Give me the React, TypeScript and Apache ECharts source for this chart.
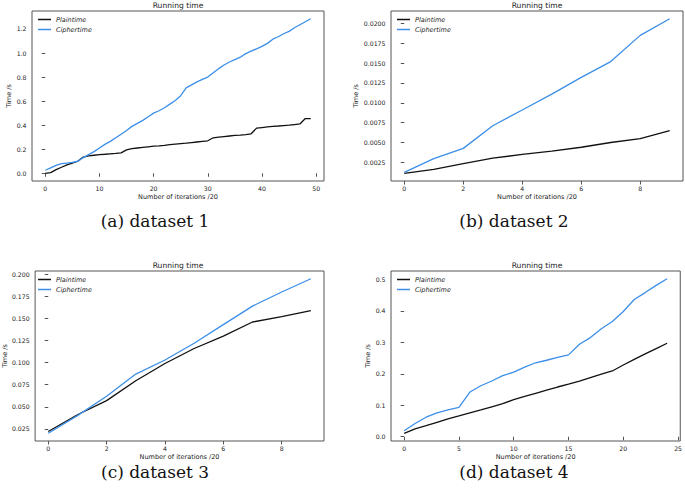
import React, { useEffect, useRef } from "react";
import * as echarts from "echarts";

// ---- data ----
const plainA = [0.0, 0.005, 0.03, 0.05, 0.07, 0.085, 0.1, 0.135, 0.145, 0.15, 0.155, 0.158, 0.162, 0.165, 0.17, 0.195, 0.205, 0.21, 0.215, 0.22, 0.225, 0.228, 0.232, 0.238, 0.242, 0.246, 0.25, 0.255, 0.26, 0.265, 0.27, 0.295, 0.3, 0.305, 0.31, 0.315, 0.318, 0.322, 0.328, 0.375, 0.38, 0.385, 0.39, 0.393, 0.397, 0.4, 0.405, 0.41, 0.455, 0.455];
const cipherA = [0.025, 0.045, 0.065, 0.08, 0.085, 0.09, 0.1, 0.13, 0.155, 0.18, 0.21, 0.24, 0.265, 0.295, 0.325, 0.355, 0.39, 0.415, 0.44, 0.47, 0.5, 0.52, 0.545, 0.575, 0.605, 0.645, 0.71, 0.735, 0.76, 0.78, 0.8, 0.835, 0.87, 0.9, 0.925, 0.945, 0.965, 0.995, 1.015, 1.035, 1.055, 1.08, 1.115, 1.135, 1.16, 1.18, 1.21, 1.235, 1.26, 1.285];

const plainB = [0.00112, 0.00162, 0.00233, 0.00302, 0.0035, 0.0039, 0.0044, 0.005, 0.0055, 0.0065];
const cipherB = [0.00124, 0.00296, 0.00426, 0.00711, 0.0091, 0.0111, 0.0132, 0.0152, 0.0185, 0.0206];

const plainC = [0.022, 0.041, 0.057, 0.0795, 0.099, 0.116, 0.13, 0.146, 0.152, 0.159];
const cipherC = [0.02, 0.04, 0.062, 0.087, 0.103, 0.122, 0.143, 0.164, 0.18, 0.195];

const plainD = [0.011, 0.025, 0.035, 0.046, 0.057, 0.066, 0.076, 0.085, 0.095, 0.105, 0.118, 0.128, 0.138, 0.148, 0.158, 0.167, 0.177, 0.188, 0.199, 0.209, 0.228, 0.246, 0.263, 0.28, 0.297];
const cipherD = [0.019, 0.042, 0.062, 0.076, 0.085, 0.093, 0.142, 0.162, 0.177, 0.194, 0.205, 0.221, 0.235, 0.243, 0.252, 0.26, 0.294, 0.315, 0.343, 0.366, 0.398, 0.436, 0.458, 0.481, 0.502];

const xTicksA = [0, 10, 20, 30, 40, 50];
const yTicksA = [0.0, 0.2, 0.4, 0.6, 0.8, 1.0, 1.2];
const xTicksB = [0, 2, 4, 6, 8];
const yTicksB = [0.0025, 0.005, 0.0075, 0.01, 0.0125, 0.015, 0.0175, 0.02];
const xTicksC = [0, 2, 4, 6, 8];
const yTicksC = [0.025, 0.05, 0.075, 0.1, 0.125, 0.15, 0.175, 0.2];
const xTicksD = [0, 5, 10, 15, 20, 25];
const yTicksD = [0.0, 0.1, 0.2, 0.3, 0.4, 0.5];

const captions = ["(a) dataset 1", "(b) dataset 2", "(c) dataset 3", "(d) dataset 4"];
const seriesNames = ["Plaintime", "Ciphertime"];
const titleText = "Running time";
const xName = "Number of iterations /20";
const yName = "Time /s";

const panels = [
  { plain: plainA, cipher: cipherA, xt: xTicksA, yt: yTicksA, dec: 1, left: 32, top: 11, yGap: 17, capX: 155, capY: 221 },
  { plain: plainB, cipher: cipherB, xt: xTicksB, yt: yTicksB, dec: 4, left: 391, top: 11, yGap: 29, capX: 514, capY: 221 },
  { plain: plainC, cipher: cipherC, xt: xTicksC, yt: yTicksC, dec: 3, left: 32, top: 271, yGap: 26, capX: 155, capY: 472 },
  { plain: plainD, cipher: cipherD, xt: xTicksD, yt: yTicksD, dec: 1, left: 391, top: 271, yGap: 18, capX: 514, capY: 472 },
];

const W = 292;
const H = 170;
const FONT = "DejaVu Sans";
const BLUE = "#3c8fe8";
const BLACK = "#111111";
const AXC = "#555555";
const TXT = "#222222";
const COLORS = [BLACK, BLUE];

export default function App() {
  const ref = useRef<HTMLDivElement>(null);
  useEffect(() => {
    if (!ref.current) return;
    const chart = echarts.init(ref.current, undefined, { renderer: "svg" });
    const grid: any[] = [];
    const xAxis: any[] = [];
    const yAxis: any[] = [];
    const series: any[] = [];
    const title: any[] = [];
    const graphic: any[] = [];
    panels.forEach((p, i) => {
      const n = p.plain.length;
      const xPad = (n - 1) * 0.05;
      const all = p.plain.concat(p.cipher);
      const ymin = Math.min(...all);
      const ymax = Math.max(...all);
      const yPad = (ymax - ymin) * 0.05;
      grid.push({ left: p.left, top: p.top, width: W, height: H, show: true, borderColor: AXC, borderWidth: 1, containLabel: false });
      xAxis.push({
        type: "value", gridIndex: i, min: -xPad, max: n - 1 + xPad,
        axisLine: { show: false }, splitLine: { show: false },
        axisTick: { show: true, length: 3.5, lineStyle: { color: AXC }, customValues: p.xt },
        axisLabel: { customValues: p.xt, fontSize: 6.2, color: TXT, fontFamily: FONT, margin: 4.5, formatter: (v: number) => String(v) },
        name: xName, nameLocation: "middle", nameGap: 12.5,
        nameTextStyle: { fontSize: 6.5, color: TXT, fontFamily: FONT },
      });
      yAxis.push({
        type: "value", gridIndex: i, min: ymin - yPad, max: ymax + yPad,
        axisLine: { show: false }, splitLine: { show: false },
        axisTick: { show: true, length: 3.5, lineStyle: { color: AXC }, customValues: p.yt },
        axisLabel: { customValues: p.yt, fontSize: 6.2, color: TXT, fontFamily: FONT, margin: 5.5, formatter: (v: number) => v.toFixed(p.dec) },
        name: yName, nameLocation: "middle", nameGap: p.yGap, nameRotate: 90,
        nameTextStyle: { fontSize: 6.5, color: TXT, fontFamily: FONT },
      });
      [p.plain, p.cipher].forEach((arr, s) => {
        series.push({
          type: "line", name: seriesNames[s], xAxisIndex: i, yAxisIndex: i, symbol: "none", showSymbol: false,
          lineStyle: { color: COLORS[s], width: 1.3 }, itemStyle: { color: COLORS[s] },
          data: arr.map((v, k) => [k, v]),
        });
        const ry = p.top + 8.5 + s * 10;
        graphic.push({
          type: "rect", silent: true, z: 100,
          shape: { x: p.left + 6, y: ry - 0.75, width: 13, height: 1.5 },
          style: { fill: COLORS[s], stroke: null },
        });
        graphic.push({
          type: "text", z: 100, x: p.left + 24, y: ry,
          style: { text: seriesNames[s], font: `italic 6.5px '${FONT}'`, fill: TXT, textAlign: "left", textVerticalAlign: "middle" },
        });
      });
      title.push({
        text: titleText, left: p.left + W / 2, top: p.top - 10, textAlign: "center", padding: 0,
        textStyle: { fontSize: 7.6, fontWeight: "normal", color: TXT, fontFamily: FONT },
      });
      graphic.push({
        type: "text", x: p.capX, y: p.capY,
        style: { text: captions[i], font: "17px 'DejaVu Serif'", fill: "#111", textAlign: "center", textVerticalAlign: "middle" },
      });
    });
    chart.setOption({ animation: false, backgroundColor: "#fff", grid, xAxis, yAxis, series, title, graphic });
    return () => chart.dispose();
  }, []);
  return <div ref={ref} style={{ position: "fixed", left: 0, top: 0, width: 685, height: 491 }} />;
}
